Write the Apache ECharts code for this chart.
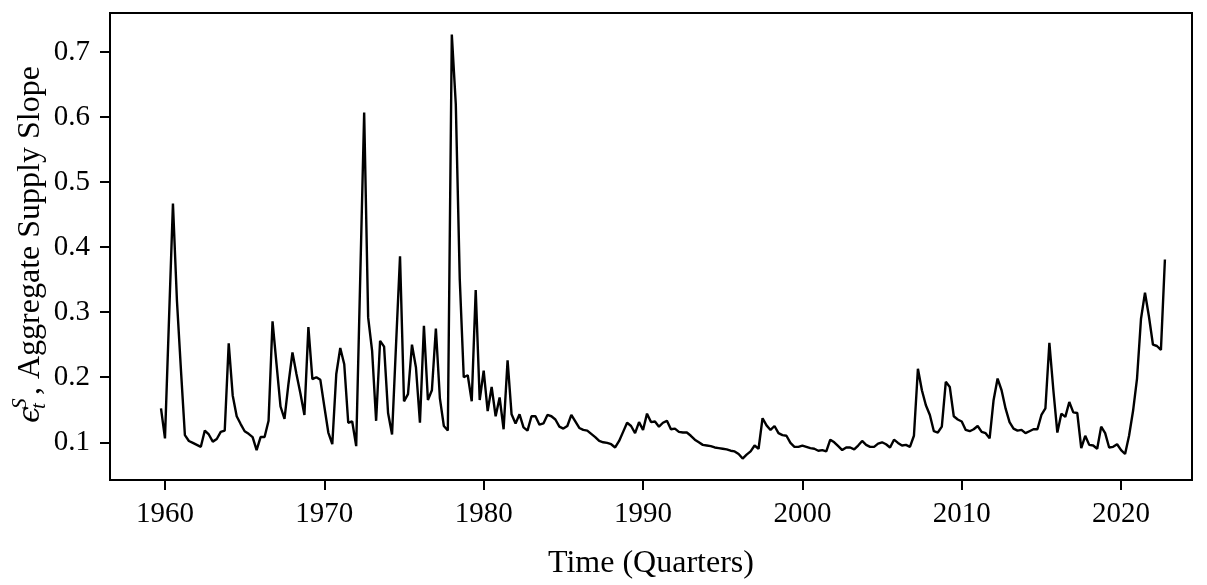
<!DOCTYPE html>
<html>
<head>
<meta charset="utf-8">
<script src="https://cdn.jsdelivr.net/npm/echarts@6/dist/echarts.min.js"></script>
<style>
  html, body { margin: 0; padding: 0; background: #fff; }
  #chart { width: 1207px; height: 585px; }
</style>
</head>
<body>
<div id="chart"></div>
<script>
// Quarterly aggregate supply slope, first observation 1959 Q4
const firstQuarter = 1959.75;

const slope1960s = [ // 1959Q4 - 1969Q4
  0.152, 0.106, 0.287, 0.467, 0.318, 0.212, 0.111, 0.102, 0.099, 0.096,
  0.093, 0.118, 0.112, 0.101, 0.105, 0.116, 0.118, 0.252, 0.172, 0.140,
  0.128, 0.117, 0.113, 0.108, 0.088, 0.108, 0.108, 0.133, 0.286, 0.220,
  0.155, 0.136, 0.190, 0.238, 0.205, 0.175, 0.142, 0.277, 0.197, 0.200,
  0.196
];
const slope1970s = [
  0.155, 0.115, 0.097, 0.205, 0.245, 0.220, 0.130, 0.132, 0.094, 0.350,
  0.607, 0.292, 0.240, 0.133, 0.256, 0.247, 0.145, 0.112, 0.250, 0.386,
  0.163, 0.174, 0.250, 0.215, 0.130, 0.279, 0.165, 0.180, 0.275, 0.168,
  0.125, 0.118, 0.727, 0.620, 0.350, 0.200, 0.203, 0.163, 0.334, 0.165
];
const slope1980s = [
  0.210, 0.148, 0.185, 0.140, 0.169, 0.120, 0.226, 0.143, 0.129, 0.143,
  0.123, 0.118, 0.140, 0.140, 0.127, 0.129, 0.142, 0.140, 0.135, 0.124,
  0.121, 0.125, 0.142, 0.132, 0.122, 0.119, 0.118, 0.113, 0.108, 0.102,
  0.100, 0.099, 0.097, 0.092, 0.102, 0.116, 0.130, 0.125, 0.114, 0.131
];
const slope1990s = [
  0.119, 0.144, 0.131, 0.132, 0.124, 0.130, 0.133, 0.120, 0.121, 0.116,
  0.115, 0.115, 0.110, 0.104, 0.100, 0.096, 0.095, 0.094, 0.092, 0.091,
  0.090, 0.089, 0.087, 0.086, 0.082, 0.075, 0.081, 0.086, 0.095, 0.090,
  0.137, 0.126, 0.119, 0.125, 0.114, 0.111, 0.110, 0.099, 0.093, 0.093
];
const slope2000s = [
  0.095, 0.093, 0.091, 0.090, 0.087, 0.088, 0.086, 0.104, 0.100, 0.094,
  0.088, 0.092, 0.092, 0.089, 0.095, 0.102, 0.096, 0.093, 0.093, 0.098,
  0.100, 0.097, 0.092, 0.104, 0.099, 0.095, 0.096, 0.093, 0.110, 0.213,
  0.180, 0.157, 0.142, 0.117, 0.115, 0.124, 0.193, 0.185, 0.140, 0.135
];
const slope2010s = [
  0.132, 0.119, 0.117, 0.120, 0.125, 0.116, 0.114, 0.106, 0.165, 0.198,
  0.180, 0.152, 0.131, 0.121, 0.118, 0.119, 0.114, 0.117, 0.120, 0.120,
  0.142, 0.152, 0.253, 0.180, 0.115, 0.144, 0.139, 0.162, 0.146, 0.145,
  0.091, 0.110, 0.096, 0.095, 0.090, 0.124, 0.114, 0.092, 0.093, 0.097
];
const slope2020s = [
  0.088, 0.082, 0.110, 0.148, 0.198, 0.290, 0.330, 0.293, 0.250, 0.248,
  0.242, 0.381
];

const xTickYears = [1960, 1970, 1980, 1990, 2000, 2010, 2020];
const yTickValues = [0.1, 0.2, 0.3, 0.4, 0.5, 0.6, 0.7];

const slope = [].concat(slope1960s, slope1970s, slope1980s, slope1990s,
                        slope2000s, slope2010s, slope2020s);
const seriesData = slope.map((v, i) => [firstQuarter + i * 0.25, v]);

const serif = '"Liberation Serif", "DejaVu Serif", serif';
const tickFs = 29;
const titleFs = 32;

const chart = echarts.init(document.getElementById('chart'), null, { renderer: 'canvas' });
chart.setOption({
  animation: false,
  backgroundColor: '#fff',
  grid: {
    left: 110, right: 15, top: 13, bottom: 89,
    show: true, borderColor: '#000', borderWidth: 2, backgroundColor: 'transparent'
  },
  xAxis: {
    type: 'value',
    min: 1956.55, max: 2024.45,
    axisLine: { show: false },
    splitLine: { show: false },
    axisTick: {
      show: true, inside: false, length: 10, customValues: xTickYears,
      lineStyle: { color: '#000', width: 2 }
    },
    axisLabel: {
      customValues: xTickYears, margin: 20,
      color: '#000', fontFamily: serif, fontSize: tickFs,
      formatter: v => String(v)
    },
    name: 'Time (Quarters)',
    nameLocation: 'middle', nameGap: 68,
    nameTextStyle: { color: '#000', fontFamily: serif, fontSize: titleFs }
  },
  yAxis: {
    type: 'value',
    min: 0.042, max: 0.760,
    axisLine: { show: false },
    splitLine: { show: false },
    axisTick: {
      show: true, inside: false, length: 10, customValues: yTickValues,
      lineStyle: { color: '#000', width: 2 }
    },
    axisLabel: {
      customValues: yTickValues, margin: 20,
      color: '#000', fontFamily: serif, fontSize: tickFs,
      formatter: v => v.toFixed(1)
    }
  },
  graphic: [{
    type: 'group',
    x: 31, y: 423,
    rotation: Math.PI / 2,
    silent: true,
    children: [
      { type: 'text', x: 0, y: 0,
        style: { text: 'ϵ', fill: '#000', font: 'italic 30px "DejaVu Serif", serif',
                 align: 'left', verticalAlign: 'middle' } },
      { type: 'text', x: 14, y: 8,
        style: { text: 't', fill: '#000', font: 'italic 21px ' + serif,
                 align: 'left', verticalAlign: 'middle' } },
      { type: 'text', x: 14, y: -11,
        style: { text: 'S', fill: '#000', font: 'italic 21px ' + serif,
                 align: 'left', verticalAlign: 'middle' } },
      { type: 'text', x: 28, y: 0,
        style: { text: ', Aggregate Supply Slope', fill: '#000', font: titleFs + 'px ' + serif,
                 align: 'left', verticalAlign: 'middle' } }
    ]
  }],
  series: [{
    type: 'line',
    data: seriesData,
    showSymbol: false,
    lineStyle: { color: '#000', width: 2.4 },
    z: 3
  }]
});
</script>
</body>
</html>
